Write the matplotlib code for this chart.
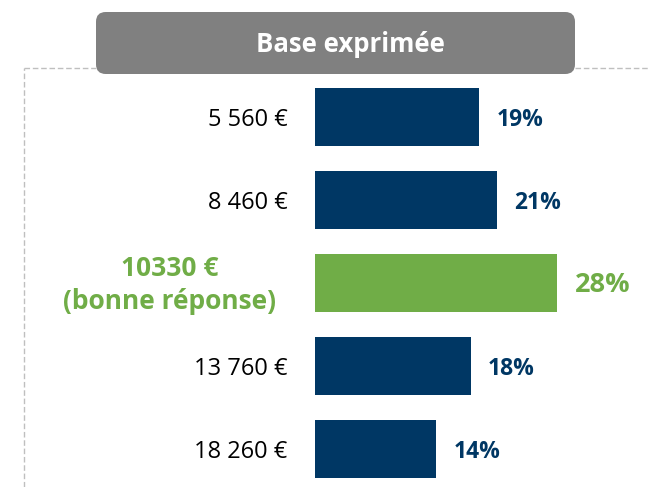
import matplotlib.pyplot as plt
from matplotlib.patches import FancyBboxPatch
from matplotlib.lines import Line2D

plt.rcParams['font.family'] = ['Open Sans', 'DejaVu Sans']

labels = ["5 560 €", "8 460 €", "10330 €\n(bonne réponse)", "13 760 €", "18 260 €"]
values = [19, 21, 28, 18, 14]
highlight = 2
title = "Base exprimée"

navy = "#003764"
green = "#70ad47"

fig = plt.figure(figsize=(6.5, 4.87), dpi=100)
ax = fig.add_axes([0, 0, 1, 1])

colors = [green if i == highlight else navy for i in range(len(values))]
ax.barh(range(len(values)), values, height=0.70, color=colors, left=0)

for i, (lab, v) in enumerate(zip(labels, values)):
    if i == highlight:
        ax.text(-16.8, i + 0.03, lab, ha="center", va="center", fontsize=19,
                fontweight="bold", color=green, linespacing=1.3)
        ax.text(v + 2.0, i + 0.03, f"{v}%", ha="left", va="center", fontsize=19.5,
                fontweight="bold", color=green)
    else:
        ax.text(-3.2, i + 0.04, lab, ha="right", va="center", fontsize=17, color="black")
        ax.text(v + 2.0, i + 0.04, f"{v}%", ha="left", va="center", fontsize=16.5,
                fontweight="bold", color=navy)

ax.set_xlim(-36.4, 38.7)
ax.set_ylim(4.463, -1.411)
ax.axis("off")

# dashed frame
dash = dict(color="#bfbfbf", linestyle=(0, (4, 2)), linewidth=1.0)
fig.add_artist(Line2D([24 / 650, 96 / 650], [1 - 68 / 487] * 2, **dash))
fig.add_artist(Line2D([575 / 650, 1.0], [1 - 68 / 487] * 2, **dash))
fig.add_artist(Line2D([24 / 650] * 2, [0, 1 - 68 / 487], **dash))

# header box
box = FancyBboxPatch((96 / 650, 1 - 74 / 487), (575 - 96) / 650, 62 / 487,
                     boxstyle="round,pad=0,rounding_size=0.015",
                     transform=fig.transFigure, facecolor="#808080",
                     edgecolor="none", mutation_aspect=650 / 487)
fig.add_artist(box)
fig.text(350 / 650, 1 - 45 / 487, title, ha="center", va="center",
         fontsize=18.5, fontweight="bold", color="white")

fig.savefig("out.png", dpi=100)
